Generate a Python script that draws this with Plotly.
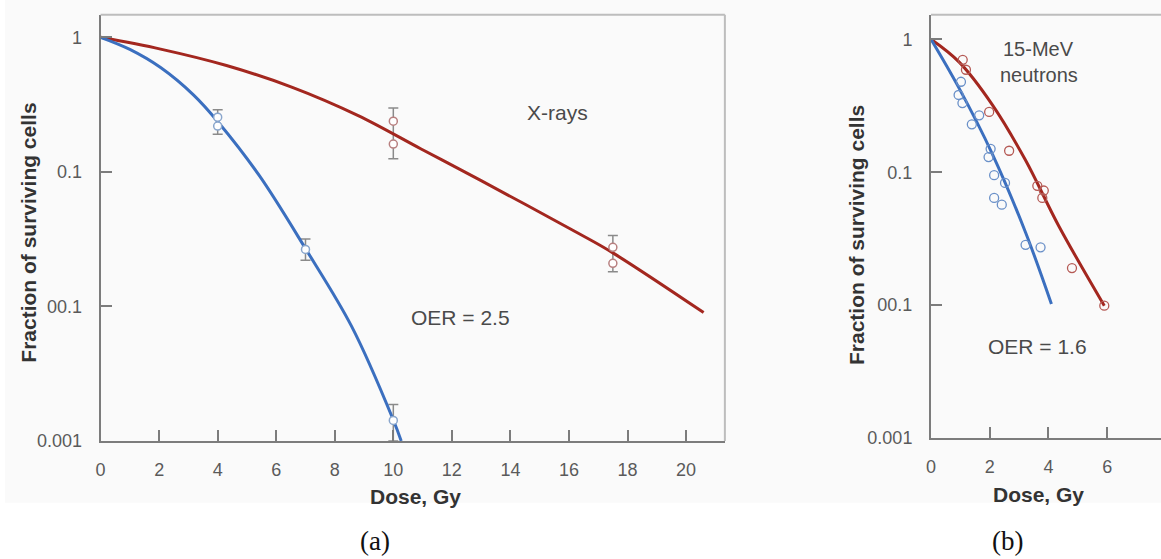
import plotly.graph_objects as go

W, H = 1161, 559

# ---------------- data ----------------
# (a) X-rays
A_BLUE_CURVE_DOSE = [0, 1.0, 2.05, 3.18, 4.02, 5.43, 7.0, 8.58, 9.99, 10.27]
A_BLUE_CURVE_SURV = [1, 0.813, 0.596, 0.372, 0.234, 0.0933, 0.0269, 0.00708, 0.00145, 0.001]
A_RED_CURVE_DOSE = [0, 2.05, 4.3, 6.55, 8.8, 10.95, 13.0, 16.35, 17.5, 20.6]
A_RED_CURVE_SURV = [1, 0.817, 0.617, 0.425, 0.262, 0.148, 0.086, 0.0347, 0.025, 0.009]

A_BLUE_PTS_DOSE = [4, 4, 7, 10]
A_BLUE_PTS_SURV = [0.255, 0.219, 0.0265, 0.00142]
A_RED_PTS_DOSE = [10, 10, 17.5, 17.5]
A_RED_PTS_SURV = [0.238, 0.161, 0.0275, 0.0209]

A_ERR_DOSE = [4, 7, 10, 10, 17.5]
A_ERR_HI = [0.29, 0.0317, 0.00187, 0.298, 0.0336]
A_ERR_LO = [0.19, 0.022, 0.001, 0.125, 0.0181]

# (b) 15-MeV neutrons
B_BLUE_CURVE_DOSE = [0, 0.96, 2.09, 3.22, 4.1]
B_BLUE_CURVE_SURV = [1, 0.427, 0.137, 0.0352, 0.0102]
B_RED_CURVE_DOSE = [0, 0.96, 2.09, 3.22, 4.35, 5.9]
B_RED_CURVE_SURV = [1, 0.673, 0.321, 0.123, 0.0394, 0.0099]

B_BLUE_PTS_DOSE = [1.02, 0.94, 1.07, 1.64, 1.39, 2.03, 1.96, 2.15, 2.52, 2.15, 2.41, 3.22, 3.73]
B_BLUE_PTS_SURV = [0.479, 0.381, 0.331, 0.268, 0.229, 0.150, 0.13, 0.095, 0.083, 0.064, 0.057, 0.0284, 0.0272]
B_RED_PTS_DOSE = [1.08, 1.19, 1.98, 2.66, 3.62, 3.84, 3.79, 4.80, 5.9]
B_RED_PTS_SURV = [0.70, 0.59, 0.284, 0.145, 0.079, 0.0728, 0.064, 0.019, 0.0099]

A_X_TICKS = [0, 2, 4, 6, 8, 10, 12, 14, 16, 18, 20]
B_X_TICKS = [0, 2, 4, 6]
Y_TICKS = [1, 0.1, 0.01, 0.001]
Y_TICK_TEXT = ["1", "0.1", "00.1", "0.001"]

# ---------------- styles ----------------
BLUE = "#3b6fbf"
RED = "#a3271f"
AXIS = "#7c7c7c"
FRAME = "#bdbdbd"
TXT = "#4a4a4a"
SANS = "Liberation Sans, Arial, sans-serif"


def px(x):
    return x / W


def py(y):
    return 1 - y / H


fig = go.Figure()

# ---- panel (a)
fig.add_trace(go.Scatter(x=A_ERR_DOSE, y=A_ERR_LO, mode="markers",
                         marker=dict(opacity=0, size=1),
                         error_y=dict(type="data", symmetric=False,
                                      array=[h - l for h, l in zip(A_ERR_HI, A_ERR_LO)],
                                      arrayminus=[0] * len(A_ERR_LO),
                                      color="#8a8a8a", thickness=1.5, width=5),
                         xaxis="x", yaxis="y", showlegend=False, hoverinfo="skip"))
fig.add_trace(go.Scatter(x=A_RED_CURVE_DOSE, y=A_RED_CURVE_SURV, mode="lines",
                         line=dict(color=RED, width=3, shape="spline", smoothing=1.0),
                         xaxis="x", yaxis="y", showlegend=False))
fig.add_trace(go.Scatter(x=A_BLUE_CURVE_DOSE, y=A_BLUE_CURVE_SURV, mode="lines",
                         line=dict(color=BLUE, width=3, shape="spline", smoothing=1.0),
                         xaxis="x", yaxis="y", showlegend=False))
fig.add_trace(go.Scatter(x=A_BLUE_PTS_DOSE, y=A_BLUE_PTS_SURV, mode="markers",
                         marker=dict(symbol="circle", size=8, color="white",
                                     line=dict(color="#8aa6cc", width=1.5)),
                         xaxis="x", yaxis="y", showlegend=False))
fig.add_trace(go.Scatter(x=A_RED_PTS_DOSE, y=A_RED_PTS_SURV, mode="markers",
                         marker=dict(symbol="circle", size=8, color="white",
                                     line=dict(color="#b88080", width=1.5)),
                         xaxis="x", yaxis="y", showlegend=False))

# ---- panel (b)
fig.add_trace(go.Scatter(x=B_RED_CURVE_DOSE, y=B_RED_CURVE_SURV, mode="lines",
                         line=dict(color=RED, width=3, shape="spline", smoothing=1.0),
                         xaxis="x2", yaxis="y2", showlegend=False))
fig.add_trace(go.Scatter(x=B_BLUE_CURVE_DOSE, y=B_BLUE_CURVE_SURV, mode="lines",
                         line=dict(color=BLUE, width=3, shape="spline", smoothing=1.0),
                         xaxis="x2", yaxis="y2", showlegend=False))
fig.add_trace(go.Scatter(x=B_BLUE_PTS_DOSE, y=B_BLUE_PTS_SURV, mode="markers",
                         marker=dict(symbol="circle-open", size=9, color="#6a90c8",
                                     line=dict(width=1.3)),
                         xaxis="x2", yaxis="y2", showlegend=False))
fig.add_trace(go.Scatter(x=B_RED_PTS_DOSE, y=B_RED_PTS_SURV, mode="markers",
                         marker=dict(symbol="circle-open", size=9, color="#b55a55",
                                     line=dict(width=1.3)),
                         xaxis="x2", yaxis="y2", showlegend=False))

# ---------------- axes ----------------
A_LEFT, A_RIGHT, A_TOP, A_BOT = 96, 723, 15, 449
B_LEFT, B_RIGHT, B_TOP, B_BOT = 930, 1161, 15, 446
UNIT = 29.4

tickfont = dict(family=SANS, size=18, color="#5a5a5a")
common_x = dict(showgrid=False, zeroline=False, showline=True, linecolor=AXIS, linewidth=2,
                ticks="inside", ticklen=11, tickwidth=2, tickcolor=AXIS,
                tickfont=tickfont, tickmode="array", ticklabelstandoff=11, fixedrange=True)
common_y = dict(type="log", showgrid=False, zeroline=False, showline=True, linecolor=AXIS,
                linewidth=2, ticks="inside", ticklen=11, tickwidth=2, tickcolor=AXIS,
                tickfont=tickfont, tickmode="array", tickvals=Y_TICKS, ticktext=Y_TICK_TEXT,
                ticklabelstandoff=13, fixedrange=True)

a_dec = (A_BOT - 38) / 3.0
b_dec = (B_BOT - 40) / 3.0

fig.update_layout(
    width=W, height=H,
    margin=dict(l=0, r=0, t=0, b=0),
    paper_bgcolor="white", plot_bgcolor="rgba(0,0,0,0)",
    xaxis=dict(common_x, domain=[px(A_LEFT), px(A_RIGHT)],
               range=[0, (A_RIGHT - A_LEFT) / UNIT], tickvals=A_X_TICKS, anchor="y"),
    yaxis=dict(common_y, domain=[py(A_BOT), py(A_TOP)],
               range=[-3, (38 - A_TOP) / a_dec], anchor="x"),
    xaxis2=dict(common_x, domain=[px(B_LEFT), 1.0],
                range=[0, (B_RIGHT - B_LEFT) / 29.5], tickvals=B_X_TICKS, anchor="y2"),
    yaxis2=dict(common_y, domain=[py(B_BOT), py(B_TOP)],
                range=[-3, (40 - B_TOP) / b_dec], anchor="x2"),
)

shapes = [
    # light backdrop of the figure area
    dict(type="rect", xref="paper", yref="paper", x0=0, x1=1, y0=py(512), y1=1,
         fillcolor="#fafafa", line=dict(width=0), layer="below"),
    # frame of panel (a)
    dict(type="line", xref="paper", yref="paper", x0=px(A_LEFT), x1=px(A_RIGHT),
         y0=py(A_TOP), y1=py(A_TOP), line=dict(color=FRAME, width=2)),
    dict(type="line", xref="paper", yref="paper", x0=px(A_RIGHT), x1=px(A_RIGHT),
         y0=py(A_TOP), y1=py(A_BOT), line=dict(color=FRAME, width=2)),
    # frame of panel (b)
    dict(type="line", xref="paper", yref="paper", x0=px(B_LEFT), x1=1,
         y0=py(B_TOP), y1=py(B_TOP), line=dict(color=FRAME, width=2)),
]
fig.update_layout(shapes=shapes)

ann = []


def text(x, y, s, size=18, color=TXT, bold=False, angle=0, family=SANS):
    ann.append(dict(x=px(x), y=py(y), xref="paper", yref="paper", text=("<b>%s</b>" % s) if bold else s,
                    showarrow=False, xanchor="center", yanchor="middle", textangle=angle,
                    font=dict(family=family, size=size, color=color)))


text(555, 115, "X-rays", 21)
text(457, 323, "OER = 2.5", 21)
text(1038, 50, "15-MeV", 20)
text(1038, 76, "neutrons", 20)
text(1037, 353, "OER = 1.6", 21)
text(24, 237, "Fraction of surviving cells", 21, "#333", True, -90)
text(855, 239, "Fraction of surviving cells", 21, "#333", True, -90)
text(412, 506, "Dose, Gy", 21, "#333", True)
text(1038, 503, "Dose, Gy", 21, "#333", True)
text(372, 551, "(a)", 27, "#111", family="Liberation Serif, Times New Roman, serif")
text(1007, 551, "(b)", 27, "#111", family="Liberation Serif, Times New Roman, serif")
fig.update_layout(annotations=ann)

fig.write_html("out.html")
